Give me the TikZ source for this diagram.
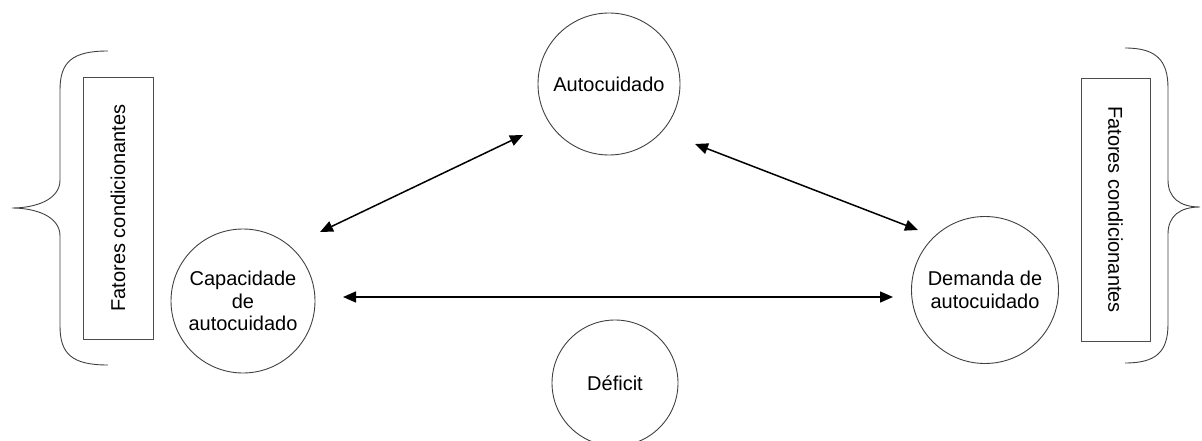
\documentclass[tikz,border=0pt]{standalone}
\usepackage{fontspec}
\setmainfont{Liberation Sans}
\usetikzlibrary{arrows.meta,calc}
\begin{document}
\begin{tikzpicture}[x=1pt,y=-1pt,
  circ/.style={circle,draw=black!75,line width=0.9pt,inner sep=0pt,align=center,
    font=\fontsize{20}{22.5}\selectfont},
  fbox/.style={draw=black!70,line width=0.9pt,inner sep=0pt},
  ftext/.style={font=\fontsize{20}{22.5}\selectfont},
  arr/.style={line width=1.5pt,{Triangle[length=13pt,width=11pt]}-{Triangle[length=13pt,width=11pt]}},
  brace/.style={draw=black!75,line width=0.9pt}]
\useasboundingbox (0,0) rectangle (1202,441);
\node[circ,minimum size=142pt] (auto) at (609,84) {Autocuidado};
\node[circ,minimum size=144pt] (cap) at (243,301) {Capacidade\\de\\autocuidado};
\node[circ,minimum size=147pt] (dem) at (985,290) {Demanda de\\autocuidado};
\node[circ,minimum size=126pt] (def) at (615,383) {Déficit};
\node[fbox,minimum width=70pt,minimum height=262pt] (fl) at (118,208) {};
\node[ftext,rotate=90] (tl) at (fl.center) {Fatores condicionantes};
\node[fbox,minimum width=69pt,minimum height=263pt] (fr) at (1115.5,209.5) {};
\node[ftext,rotate=-90] (tr) at (fr.center) {Fatores condicionantes};
\draw[arr] ([shift={(77,-69)}]cap.center) -- ([shift={(-86,51)}]auto.center);
\draw[arr] ([shift={(86,60)}]auto.center) -- ([shift={(-67,-60)}]dem.center);
\draw[arr] ([shift={(100,-4)}]cap.center) -- ([shift={(-92,7)}]dem.center);
\draw[brace] (108,51) .. controls (72,51) and (60,62) .. (60,90) -- (60,180)
  .. controls (60,200) and (35,208) .. (12,208)
  .. controls (35,208) and (60,216) .. (60,236) -- (60,326)
  .. controls (60,354) and (72,365) .. (108,365);
\draw[brace] (1125,48) .. controls (1156,48) and (1168,60) .. (1168,88) -- (1168,180)
  .. controls (1168,198) and (1180,207) .. (1200,207)
  .. controls (1180,207) and (1168,216) .. (1168,234) -- (1168,324)
  .. controls (1168,352) and (1156,363) .. (1125,363);
\end{tikzpicture}
\end{document}
